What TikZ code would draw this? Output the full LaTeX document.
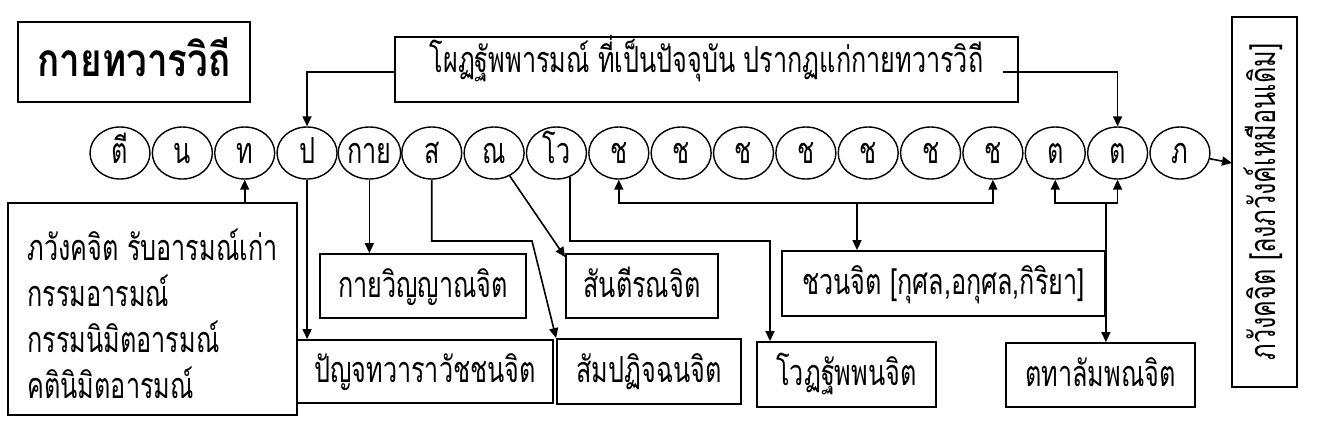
\documentclass[tikz,border=0pt]{standalone}
\usepackage{fontspec}
\newfontfamily\thai[Script=Thai,FakeStretch=0.70]{Loma}
\newfontfamily\thaiT[Script=Thai,FakeStretch=0.80]{Loma}
\usetikzlibrary{arrows.meta,calc,shapes.geometric}
\begin{document}
\begin{tikzpicture}[x=1pt,y=-1pt,line width=1.6pt,
  >={Triangle[length=10pt,width=9pt]},
  txt/.style={font=\thai\fontsize{36}{36}\selectfont},
  box/.style={draw,line width=1.8pt,inner sep=0pt,txt,text height=30pt,text depth=8pt},
  cir/.style={draw,ellipse,line width=1.4pt,minimum width=60pt,minimum height=52pt,inner sep=0pt,txt,text height=28pt,text depth=8pt}]
\useasboundingbox (0,0) rectangle (1320,421);
% circles
\foreach \t [count=\i from 0] in {ตี,น,ท,ป,กาย,ส,ณ,โว,ช,ช,ช,ช,ช,ช,ช,ต,ต,ภ}
  \node[cir] (c\i) at ({120+62.35*\i},153) {\t};
% boxes
\node[box,minimum width=232pt,minimum height=80pt,text height=40pt,text depth=12pt,font=\thaiT\bfseries\fontsize{46}{46}\selectfont] (title) at (134,62) {กายทวารวิถี};
\node[box,minimum width=623pt,minimum height=65pt,text height=28pt,text depth=23pt] (top) at (706.5,69.5) {โผฏฐัพพารมณ์ ที่เป็นปัจจุบัน ปรากฏแก่กายทวารวิถี};
\node[box,minimum width=289pt,minimum height=212pt,text height=10pt,text depth=108pt] (bhav) at (152.5,309) {\fontsize{36}{46}\selectfont\begin{tabular}[t]{@{}l@{}}ภวังคจิต รับอารมณ์เก่า\\ กรรมอารมณ์\\ กรรมนิมิตอารมณ์\\ คตินิมิตอารมณ์\end{tabular}};
\node[box,minimum width=206pt,minimum height=64pt] (kaya) at (423,286) {กายวิญญาณจิต};
\node[box,minimum width=256pt,minimum height=63pt] (panca) at (425,371.5) {ปัญจทวาราวัชชนจิต};
\node[box,minimum width=152pt,minimum height=64pt] (santi) at (642,286) {สันตีรณจิต};
\node[box,minimum width=184pt,minimum height=65pt] (sampa) at (649,371.5) {สัมปฏิจฉนจิต};
\node[box,minimum width=179pt,minimum height=65pt] (votth) at (846.5,374.5) {โวฏฐัพพนจิต};
\node[box,minimum width=323pt,minimum height=65pt] (javana) at (943.5,283.5) {ชวนจิต [กุศล,อกุศล,กิริยา]};
\node[box,minimum width=189pt,minimum height=64pt] (tada) at (1100.5,375) {ตทาลัมพณจิต};
\node[box,rotate=90,minimum width=370pt,minimum height=65pt] (rot) at (1264.5,202) {ภวังคจิต [ลงภวังค์เหมือนเดิม]};
% coordinates
\coordinate (topL) at ([yshift=-2.5pt]top.west);
\coordinate (topR) at (1003,72);
\coordinate (s1) at (532,241);
\coordinate (v1) at (770,241);
\coordinate (J) at (857,203);
\coordinate (rotT) at (1232,163);
% connectors
\draw[->] (topL) -| (c3.north);
\draw[->] (topR) -| (c16.north);
\draw[->] (c2.south |- bhav.north) -- (c2.south);
\draw[->] (c3.south) -- (c3.south |- panca.north);
\draw[->] (c4.south) -- (c4.south |- kaya.north);
\draw[->] (c5.south) |- (s1) -- (sampa.north west);
\draw[->] (c6) -- ($(santi.north west)+(0,4)$);
\draw[->] (c7.-61) |- (v1) -- (v1 |- votth.north);
\draw[<->] (c8.south) -- (c8.south |- J) -- (c14.south |- J) -- (c14.south);
\draw[->] (J) -- (J |- javana.north);
\draw[<->] (c15.south) -- (c15.south |- J) -- (c16.south |- J) -- (c16.south);
\draw[->] (javana.north east |- J) -- (javana.east |- tada.north);
\draw[->] (c17) -- (rotT);
\end{tikzpicture}
\end{document}
